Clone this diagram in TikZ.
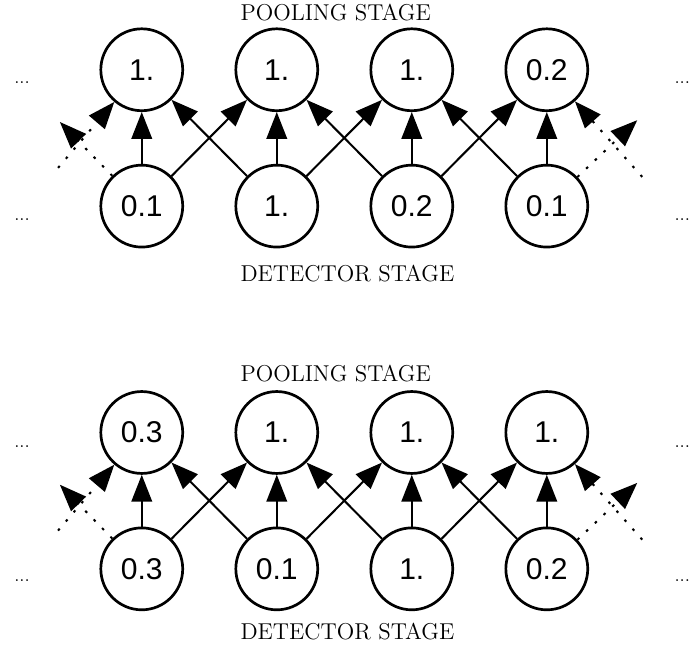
\documentclass[tikz,border=0pt]{standalone}
\usepackage{fontspec}
\setsansfont{Liberation Sans}
\usetikzlibrary{arrows.meta}

\tikzset{
  unit/.style={draw, circle, line width=1.7pt, minimum size=1.82cm, inner sep=0pt,
    font=\sffamily\fontsize{19}{21}\selectfont},
  link/.style={line width=1.3pt, -{Triangle[length=17pt,width=13pt]}},
  ghost/.style={link, dash pattern=on 1.6pt off 6pt},
  stage/.style={font=\fontsize{14.5}{16}\selectfont},
  more/.style={font=\fontsize{12}{14}\selectfont}
}

\begin{document}
\begin{tikzpicture}
  \useasboundingbox (0,0) rectangle (15.51,-14.31);

  % first panel
  \node[stage] (pool1) at (7.46,-0.27) {POOLING STAGE};
  \node[stage] (det1) at (7.72,-6.07) {DETECTOR STAGE};
  \foreach \i/\v in {1/1.,2/1.,3/1.,4/0.2}
    \node[unit] (pa\i) at (3*\i+0.15,-1.55) {\v};
  \foreach \i/\v in {1/0.1,2/1.,3/0.2,4/0.1}
    \node[unit] (da\i) at (3*\i+0.15,-4.58) {\v};
  \foreach \i in {1,...,4}
    \draw[link] (da\i) -- (pa\i);
  \foreach \i/\j in {1/2,2/3,3/4} {
    \draw[link] (da\i) -- (pa\j);
    \draw[link] (da\j) -- (pa\i);
  }
  \coordinate (oa1) at (1.33,-2.71);
  \coordinate (ia1) at (1.29,-3.73);
  \coordinate (oa4) at (14.16,-2.67);
  \coordinate (ia4) at (14.27,-3.93);
  \draw[ghost] (da1) -- (oa1);
  \draw[ghost] (ia1) -- (pa1);
  \draw[ghost] (da4) -- (oa4);
  \draw[ghost] (ia4) -- (pa4);
  \node[more] (ml1) at (0.49,-1.84) {...};
  \node[more] (ml2) at (0.49,-4.87) {...};
  \node[more] (mr1) at (15.16,-1.84) {...};
  \node[more] (mr2) at (15.16,-4.87) {...};

  % second panel
  \begin{scope}[yshift=-8.06cm]
    \node[stage] (pool2) at (7.46,-0.23) {POOLING STAGE};
    \node[stage] (det2) at (7.72,-5.98) {DETECTOR STAGE};
    \foreach \i/\v in {1/0.3,2/1.,3/1.,4/1.}
      \node[unit] (pb\i) at (3*\i+0.15,-1.55) {\v};
    \foreach \i/\v in {1/0.3,2/0.1,3/1.,4/0.2}
      \node[unit] (db\i) at (3*\i+0.15,-4.58) {\v};
    \foreach \i in {1,...,4}
      \draw[link] (db\i) -- (pb\i);
    \foreach \i/\j in {1/2,2/3,3/4} {
      \draw[link] (db\i) -- (pb\j);
      \draw[link] (db\j) -- (pb\i);
    }
    \coordinate (ob1) at (1.33,-2.71);
    \coordinate (ib1) at (1.29,-3.73);
    \coordinate (ob4) at (14.16,-2.67);
    \coordinate (ib4) at (14.27,-3.93);
    \draw[ghost] (db1) -- (ob1);
    \draw[ghost] (ib1) -- (pb1);
    \draw[ghost] (db4) -- (ob4);
    \draw[ghost] (ib4) -- (pb4);
    \node[more] (nl1) at (0.49,-1.87) {...};
    \node[more] (nl2) at (0.49,-4.85) {...};
    \node[more] (nr1) at (15.16,-1.87) {...};
    \node[more] (nr2) at (15.16,-4.85) {...};
  \end{scope}
\end{tikzpicture}
\end{document}
